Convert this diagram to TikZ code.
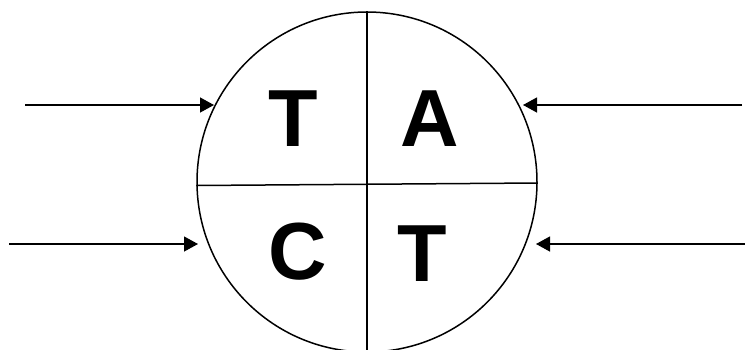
\documentclass[tikz,border=0pt]{standalone}
\usepackage{fontspec}
\setmainfont{Liberation Sans}
\usetikzlibrary{arrows.meta}
\begin{document}
\begin{tikzpicture}[x=1pt,y=-1pt,
  letter/.style={anchor=base, inner sep=0pt, font=\fontsize{81}{81}\selectfont\bfseries},
  feed/.style={line width=1.3pt, -{Triangle[length=14pt,width=15pt]}}]
\useasboundingbox (0,0) rectangle (745,349);
\node[draw, circle, line width=1.5pt, inner sep=0pt, minimum size=340pt] (wheel) at (367,182) {};
\draw[line width=1.5pt] (wheel.north) -- (wheel.south);
\draw[line width=1.5pt] ([yshift=-3.5pt]wheel.west) -- ([yshift=-1pt]wheel.east);
\node[letter] (t1) at (293.5,146) {T};
\node[letter] (a) at (429.5,146) {A};
\node[letter] (c) at (297.5,279) {C};
\node[letter] (t2) at (422,281) {T};
\coordinate (inTL) at (25,105);
\coordinate (tipTL) at (214,105);
\coordinate (inBL) at (9,244);
\coordinate (tipBL) at (198,244);
\coordinate (inTR) at (742,105);
\coordinate (tipTR) at (523,105);
\coordinate (inBR) at (745,244);
\coordinate (tipBR) at (536,244);
\draw[feed] (inTL) -- (tipTL);
\draw[feed] (inBL) -- (tipBL);
\draw[feed] (inTR) -- (tipTR);
\draw[feed] (inBR) -- (tipBR);
\end{tikzpicture}
\end{document}
